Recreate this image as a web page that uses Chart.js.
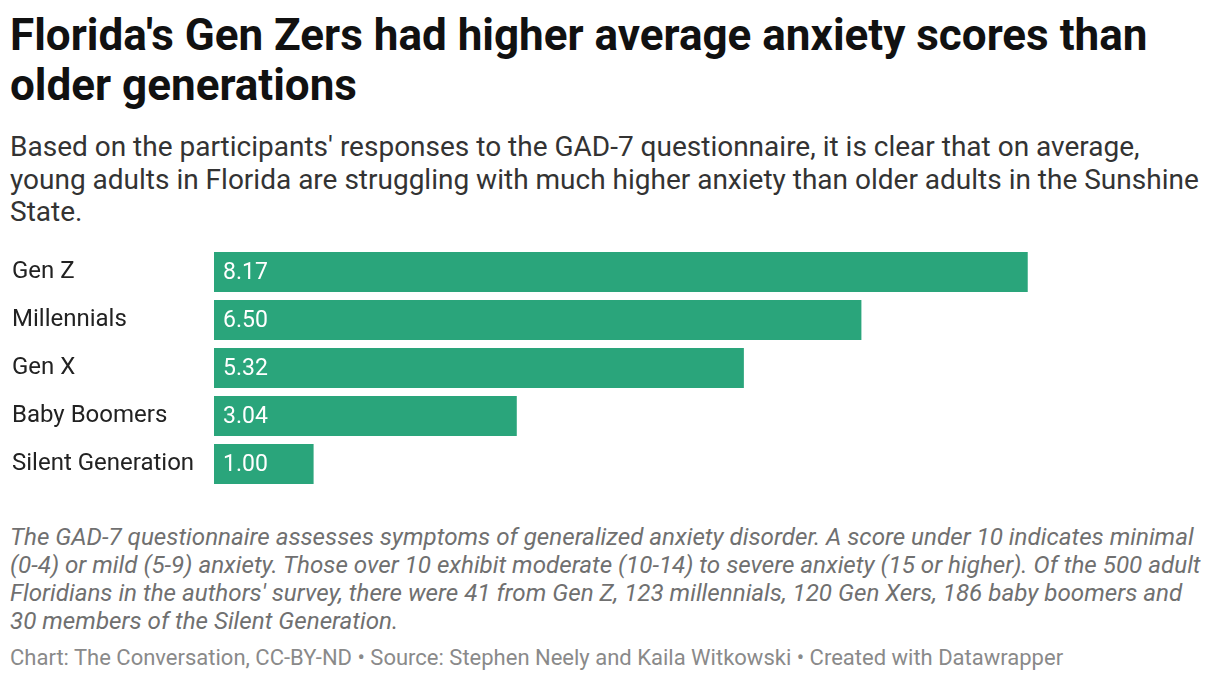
<!DOCTYPE html>
<html><head><meta charset="utf-8">
<script src="https://cdn.jsdelivr.net/npm/chart.js@4/dist/chart.umd.min.js"></script>
<style>
body{margin:0;background:#fff;font-family:Roboto,sans-serif;width:1220px;height:682px;position:relative;overflow:hidden}
#title{position:absolute;left:10px;top:10px;width:1200px;font-size:44px;font-weight:700;line-height:50px;color:#111}
#sub{position:absolute;left:10px;top:131px;width:1200px;font-size:28px;line-height:32.5px;color:#333}
#wrap{position:absolute;left:0;top:248px;width:1220px;height:240px}
#notes{position:absolute;left:10px;top:523px;width:1200px;font-size:24.2px;font-style:italic;line-height:28px;color:#707070}
#foot{position:absolute;left:10px;top:647px;font-size:22px;line-height:22px;color:#8a8a8a;white-space:nowrap}
</style></head><body>
<div id="title">Florida's Gen Zers had higher average anxiety scores than older generations</div>
<div id="sub">Based on the participants' responses to the GAD-7 questionnaire, it is clear that on average, young adults in Florida are struggling with much higher anxiety than older adults in the Sunshine State.</div>
<div id="wrap"><canvas id="c"></canvas></div>
<div id="notes">The GAD-7 questionnaire assesses symptoms of generalized anxiety disorder. A score under 10 indicates minimal (0-4) or mild (5-9) anxiety. Those over 10 exhibit moderate (10-14) to severe anxiety (15 or higher). Of the 500 adult Floridians in the authors' survey, there were 41 from Gen Z, 123 millennials, 120 Gen Xers, 186 baby boomers and 30 members of the Silent Generation.</div>
<div id="foot">Chart: The Conversation, CC-BY-ND • Source: Stephen Neely and Kaila Witkowski • Created with Datawrapper</div>
<script>
const categories = ["Gen Z","Millennials","Gen X","Baby Boomers","Silent Generation"];
const scores = [8.17, 6.50, 5.32, 3.04, 1.00];
const valueLabels = ["8.17","6.50","5.32","3.04","1.00"];

const inLabels = {
  id:'inLabels',
  afterDatasetsDraw(chart){
    const ctx = chart.ctx;
    const meta = chart.getDatasetMeta(0);
    ctx.save();
    ctx.fillStyle = '#fff';
    ctx.font = '23px Roboto';
    ctx.textBaseline = 'middle';
    ctx.textAlign = 'left';
    meta.data.forEach((bar,i)=>{
      ctx.fillText(valueLabels[i], bar.base + 9, bar.y + 1);
    });
    ctx.restore();
  }
};

new Chart(document.getElementById('c'), {
  type:'bar',
  data:{labels:categories, datasets:[{data:scores, backgroundColor:'#2aa57b', barPercentage:40/48, categoryPercentage:1}]},
  options:{
    indexAxis:'y', responsive:true, maintainAspectRatio:false, animation:false,
    layout:{padding:{left:12,right:10,top:0,bottom:0}},
    plugins:{legend:{display:false}, tooltip:{enabled:false}},
    scales:{
      x:{display:false, min:0, max:10},
      y:{
        grid:{display:false}, border:{display:false},
        ticks:{color:'#222', font:{family:'Roboto', size:24}, crossAlign:'far', padding:0},
        afterFit(s){ s.width = 202; s.paddingTop = 0; s.paddingBottom = 0; }
      }
    }
  },
  plugins:[inLabels]
});
</script>
</body></html>
